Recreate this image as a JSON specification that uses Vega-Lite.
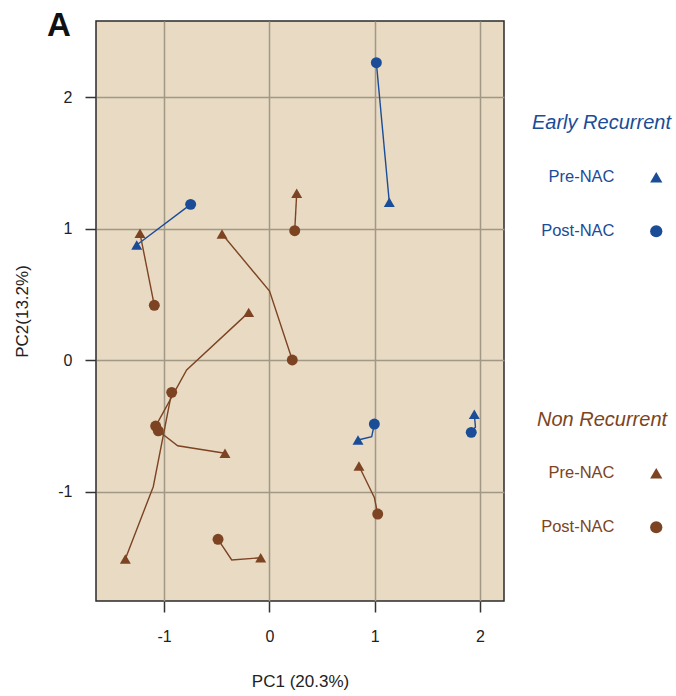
{
  "$schema": "https://vega.github.io/schema/vega-lite/v6.json",
  "width": 408,
  "height": 580,
  "autosize": "none",
  "padding": {"left": 96, "top": 21, "right": 172, "bottom": 95},
  "background": "white",
  "config": {
    "view": {"fill": "#E9DAC4", "stroke": "#2a2a2a", "strokeWidth": 1.5}
  },
  "title": {
    "text": "A",
    "anchor": "start",
    "frame": "group",
    "font": "Liberation Sans",
    "fontSize": 33,
    "fontWeight": "bold",
    "color": "#111",
    "baseline": "alphabetic",
    "offset": -32,
    "dx": -49,
    "dy": 16
  },
  "data": {
    "values": [
      {"pair": "ER1", "group": "Early Recurrent", "time": "Pre-NAC", "seq": 1, "PC1": -1.259, "PC2": 0.875},
      {"pair": "ER1", "group": "Early Recurrent", "time": "Post-NAC", "seq": 2, "PC1": -0.747, "PC2": 1.184},
      {"pair": "ER2", "group": "Early Recurrent", "time": "Pre-NAC", "seq": 1, "PC1": 1.139, "PC2": 1.2},
      {"pair": "ER2", "group": "Early Recurrent", "time": "Post-NAC", "seq": 2, "PC1": 1.016, "PC2": 2.261},
      {"pair": "ER3", "group": "Early Recurrent", "time": "Pre-NAC", "seq": 1, "PC1": 0.842, "PC2": -0.607},
      {"pair": "ER3", "group": "Early Recurrent", "time": "bend", "seq": 2, "PC1": 0.972, "PC2": -0.582},
      {"pair": "ER3", "group": "Early Recurrent", "time": "Post-NAC", "seq": 3, "PC1": 0.997, "PC2": -0.486},
      {"pair": "ER4", "group": "Early Recurrent", "time": "Pre-NAC", "seq": 1, "PC1": 1.946, "PC2": -0.412},
      {"pair": "ER4", "group": "Early Recurrent", "time": "bend", "seq": 2, "PC1": 1.957, "PC2": -0.508},
      {"pair": "ER4", "group": "Early Recurrent", "time": "Post-NAC", "seq": 3, "PC1": 1.917, "PC2": -0.549},
      {"pair": "NR1", "group": "Non Recurrent", "time": "Pre-NAC", "seq": 1, "PC1": -1.228, "PC2": 0.964},
      {"pair": "NR1", "group": "Non Recurrent", "time": "Post-NAC", "seq": 2, "PC1": -1.092, "PC2": 0.417},
      {"pair": "NR2", "group": "Non Recurrent", "time": "Pre-NAC", "seq": 1, "PC1": 0.26, "PC2": 1.268},
      {"pair": "NR2", "group": "Non Recurrent", "time": "Post-NAC", "seq": 2, "PC1": 0.241, "PC2": 0.984},
      {"pair": "NR3", "group": "Non Recurrent", "time": "Pre-NAC", "seq": 1, "PC1": -0.449, "PC2": 0.959},
      {"pair": "NR3", "group": "Non Recurrent", "time": "bend", "seq": 2, "PC1": 0.002, "PC2": 0.525},
      {"pair": "NR3", "group": "Non Recurrent", "time": "Post-NAC", "seq": 3, "PC1": 0.218, "PC2": 0.001},
      {"pair": "NR4", "group": "Non Recurrent", "time": "Pre-NAC", "seq": 1, "PC1": -0.196, "PC2": 0.363},
      {"pair": "NR4", "group": "Non Recurrent", "time": "bend", "seq": 2, "PC1": -0.785, "PC2": -0.075},
      {"pair": "NR4", "group": "Non Recurrent", "time": "Post-NAC", "seq": 3, "PC1": -1.079, "PC2": -0.501},
      {"pair": "NR5", "group": "Non Recurrent", "time": "Pre-NAC", "seq": 1, "PC1": -1.367, "PC2": -1.512},
      {"pair": "NR5", "group": "Non Recurrent", "time": "bend", "seq": 2, "PC1": -1.102, "PC2": -0.962},
      {"pair": "NR5", "group": "Non Recurrent", "time": "Post-NAC", "seq": 3, "PC1": -0.927, "PC2": -0.245},
      {"pair": "NR6", "group": "Non Recurrent", "time": "Pre-NAC", "seq": 1, "PC1": -0.421, "PC2": -0.708},
      {"pair": "NR6", "group": "Non Recurrent", "time": "bend", "seq": 2, "PC1": -0.87, "PC2": -0.651},
      {"pair": "NR6", "group": "Non Recurrent", "time": "Post-NAC", "seq": 3, "PC1": -1.054, "PC2": -0.537},
      {"pair": "NR7", "group": "Non Recurrent", "time": "Pre-NAC", "seq": 1, "PC1": -0.082, "PC2": -1.502},
      {"pair": "NR7", "group": "Non Recurrent", "time": "bend", "seq": 2, "PC1": -0.357, "PC2": -1.519},
      {"pair": "NR7", "group": "Non Recurrent", "time": "Post-NAC", "seq": 3, "PC1": -0.487, "PC2": -1.362},
      {"pair": "NR8", "group": "Non Recurrent", "time": "Pre-NAC", "seq": 1, "PC1": 0.851, "PC2": -0.805},
      {"pair": "NR8", "group": "Non Recurrent", "time": "bend", "seq": 2, "PC1": 0.997, "PC2": -1.043},
      {"pair": "NR8", "group": "Non Recurrent", "time": "Post-NAC", "seq": 3, "PC1": 1.029, "PC2": -1.17}
    ]
  },
  "encoding": {
    "x": {
      "field": "PC1",
      "type": "quantitative",
      "scale": {"domain": [-1.6456, 2.228], "nice": false, "zero": false},
      "axis": {
        "title": "PC1 (20.3%)",
        "values": [-1, 0, 1, 2],
        "labelExpr": "'' + datum.value",
        "grid": true,
        "gridColor": "#A19885",
        "gridWidth": 1.5,
        "gridOpacity": 1,
        "domain": false,
        "tickSize": 11,
        "tickWidth": 1.5,
        "tickColor": "#333",
        "labelFont": "Liberation Sans",
        "labelFontSize": 16,
        "labelColor": "#222",
        "labelPadding": 16,
        "labelFlush": false,
        "titleFont": "Liberation Sans",
        "titleFontSize": 17,
        "titleFontWeight": "normal",
        "titleColor": "#222",
        "titlePadding": 29
      }
    },
    "y": {
      "field": "PC2",
      "type": "quantitative",
      "scale": {"domain": [-1.8308, 2.5777], "nice": false, "zero": false},
      "axis": {
        "title": "PC2(13.2%)",
        "values": [-1, 0, 1, 2],
        "labelExpr": "'' + datum.value",
        "grid": true,
        "gridColor": "#A19885",
        "gridWidth": 1.5,
        "gridOpacity": 1,
        "domain": false,
        "tickSize": 11,
        "tickWidth": 1.5,
        "tickColor": "#333",
        "labelFont": "Liberation Sans",
        "labelFontSize": 16,
        "labelColor": "#222",
        "labelPadding": 13,
        "labelFlush": false,
        "titleFont": "Liberation Sans",
        "titleFontSize": 17,
        "titleFontWeight": "normal",
        "titleColor": "#222",
        "titlePadding": 26
      }
    }
  },
  "layer": [
    {
      "mark": {"type": "line", "strokeWidth": 1.4},
      "encoding": {
        "detail": {"field": "pair", "type": "nominal"},
        "order": {"field": "seq", "type": "quantitative"},
        "color": {
          "field": "group",
          "type": "nominal",
          "scale": {"domain": ["Early Recurrent", "Non Recurrent"], "range": ["#1A4C97", "#7C4422"]},
          "legend": null
        }
      }
    },
    {
      "transform": [{"filter": "datum.group === 'Early Recurrent' && datum.time !== 'bend'"}],
      "mark": {"type": "point", "filled": true, "opacity": 1, "color": "#1A4C97", "size": 120, "strokeWidth": 0},
      "encoding": {
        "shape": {
          "field": "time",
          "type": "nominal",
          "scale": {"domain": ["Pre-NAC", "Post-NAC"], "range": ["triangle-up", "circle"]},
          "legend": {
            "title": "Early Recurrent",
            "orient": "none",
            "legendX": 436,
            "legendY": 92,
            "padding": 0,
            "titleFont": "Liberation Sans",
            "titleFontSize": 20,
            "titleFontStyle": "italic",
            "titleFontWeight": "normal",
            "titleColor": "#1A4C97",
            "titlePadding": 36,
            "labelFont": "Liberation Sans",
            "labelFontSize": 16.5,
            "labelColor": "#1A4C97",
            "labelAlign": "right",
            "labelOffset": -50,
            "symbolOffset": 116,
            "symbolSize": 150,
            "symbolFillColor": "#1A4C97",
            "symbolStrokeWidth": 0,
            "symbolOpacity": 1,
            "rowPadding": 37
          }
        }
      }
    },
    {
      "transform": [{"filter": "datum.group === 'Non Recurrent' && datum.time !== 'bend'"}],
      "mark": {"type": "point", "filled": true, "opacity": 1, "color": "#7C4422", "size": 120, "strokeWidth": 0},
      "encoding": {
        "shape": {
          "field": "time",
          "type": "nominal",
          "scale": {"domain": ["Pre-NAC", "Post-NAC"], "range": ["triangle-up", "circle"]},
          "legend": {
            "title": "Non Recurrent",
            "orient": "none",
            "legendX": 441,
            "legendY": 389,
            "padding": 0,
            "titleFont": "Liberation Sans",
            "titleFontSize": 20,
            "titleFontStyle": "italic",
            "titleFontWeight": "normal",
            "titleColor": "#7C4422",
            "titlePadding": 35,
            "labelFont": "Liberation Sans",
            "labelFontSize": 16.5,
            "labelColor": "#7C4422",
            "labelAlign": "right",
            "labelOffset": -50,
            "symbolOffset": 111,
            "symbolSize": 150,
            "symbolFillColor": "#7C4422",
            "symbolStrokeWidth": 0,
            "symbolOpacity": 1,
            "rowPadding": 37
          }
        }
      }
    }
  ],
  "resolve": {"scale": {"shape": "independent"}, "legend": {"shape": "independent"}}
}
